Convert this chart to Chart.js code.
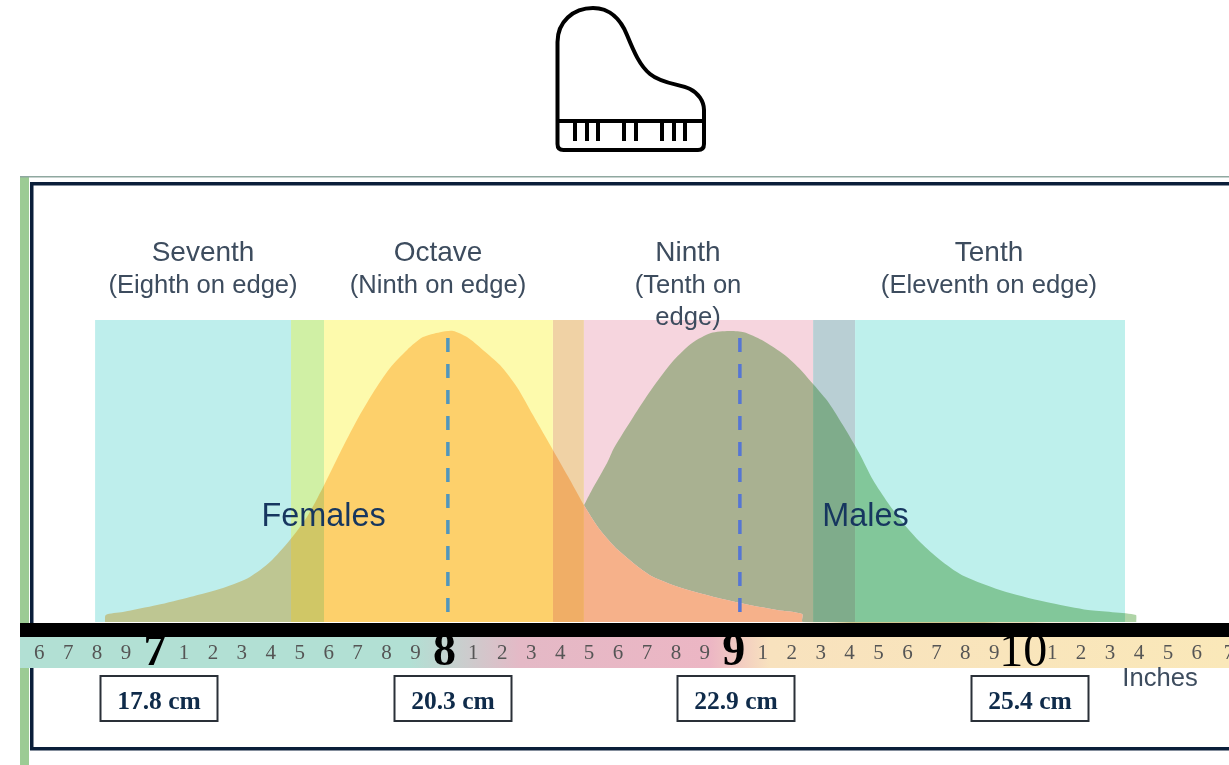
<!DOCTYPE html>
<html>
<head>
<meta charset="utf-8">
<title>Hand span</title>
<script src="https://cdn.jsdelivr.net/npm/chart.js@4"></script>
<style>
  body { margin: 0; background: #fff; }
  #wrap { position: relative; width: 1229px; height: 765px; overflow: hidden; }
  #piano { position: absolute; left: 0; top: 0; }
</style>
</head>
<body>
<div id="wrap">
  <canvas id="myChart" width="1229" height="765"></canvas>
  <svg id="piano" width="1229" height="170" fill="none" stroke="#000" stroke-width="4" stroke-linejoin="round">
    <path d="M557.5 121V42C557.5 22 573 8 593 8C610 8 621 20 627 35C634 52 640 66 650 74C662 84 680 84 690 89C698 93 704 101 704 110V144Q704 150 698 150H563.5Q557.5 150 557.5 144Z"/>
    <path d="M557.5 121H704"/>
    <path d="M575 121V141M587 121V141M598 121V141M624 121V141M636 121V141M662 121V141M674 121V141M685 121V141"/>
  </svg>
</div>
<script>
// span in inches, height as percent of the peak
const femaleInches = [6.827, 6.83, 6.889, 7.007, 7.121, 7.235, 7.328, 7.397, 7.466, 7.525, 7.581, 7.639, 7.698, 7.753, 7.812, 7.871, 7.926, 7.985, 8.03, 8.078, 8.133, 8.192, 8.251, 8.306, 8.375, 8.434, 8.486, 8.538, 8.6, 8.71, 8.842, 9.021, 9.149, 9.236, 9.238, 10.392];
const femaleHeight = [0, 2.4, 3.4, 5.8, 8.6, 11.7, 15.5, 20.6, 28.2, 36.1, 46.4, 58.1, 69.4, 78.7, 87.3, 93.5, 97.9, 99.6, 100, 97.9, 93.5, 88.3, 80.7, 71.1, 59.1, 48.8, 39.5, 31.6, 24.7, 16.1, 11, 6.5, 4.1, 2.7, 0, 0];

const maleInches = [8.482, 8.51, 8.562, 8.586, 8.652, 8.714, 8.793, 8.856, 8.921, 8.983, 9.035, 9.097, 9.177, 9.225, 9.277, 9.329, 9.381, 9.433, 9.481, 9.533, 9.585, 9.647, 9.713, 9.789, 9.941, 10.096, 10.224, 10.39, 10.392];
const maleHeight = [40, 45.4, 54.6, 59.8, 70.4, 79.7, 90, 95.9, 99.3, 100, 99.6, 96.9, 91.7, 87.3, 81.4, 75.2, 67, 58.1, 48.8, 40.9, 34, 27.1, 21.3, 16.1, 10.3, 6.5, 4.1, 2.4, 0];

const meanInches = [8.012, 9.021];
const meanRange = [3.4, 98];

const bandNames = ['Seventh', 'Octave', 'Ninth', 'Tenth'];
const bandNotes = [['(Eighth on edge)'], ['(Ninth on edge)'], ['(Tenth on', 'edge)'], ['(Eleventh on edge)']];
const bandEdges = [6.793, 7.47, 7.584, 8.375, 8.482, 9.274, 9.419, 10.352];
const bandTop = 103.8;

const cmLabels = ['17.8 cm', '20.3 cm', '22.9 cm', '25.4 cm'];

const toPoints = (xs, ys) => xs.map((x, i) => ({ x: x, y: ys[i] }));

const bandColors = ['rgb(190,238,236)', 'rgb(208,240,165)', 'rgb(253,250,172)', 'rgb(240,210,165)', 'rgb(246,213,222)', 'rgb(185,207,212)', 'rgb(190,240,236)'];
const FONT_SANS = '"Liberation Sans", Arial, sans-serif';
const FONT_SERIF = '"Liberation Serif", serif';

const data = {
  datasets: [
    // 0, 1: mean lines
    {
      data: toPoints([meanInches[0], meanInches[0]], meanRange),
      borderColor: 'rgb(80,150,190)',
      borderWidth: 3.5,
      borderDash: [14, 12],
      pointRadius: 0
    },
    {
      data: toPoints([meanInches[1], meanInches[1]], meanRange),
      borderColor: 'rgb(85,118,212)',
      borderWidth: 3.5,
      borderDash: [14, 12],
      pointRadius: 0
    },
    // 2: females
    {
      data: toPoints(femaleInches, femaleHeight),
      borderWidth: 0,
      borderColor: 'transparent',
      pointRadius: 0,
      tension: 0.25,
      fill: { value: 0 },
      backgroundColor: 'rgb(255,212,158)'
    },
    // 3: males, only where they stand above the female curve
    {
      data: toPoints(maleInches, maleHeight),
      borderWidth: 0,
      borderColor: 'transparent',
      pointRadius: 0,
      tension: 0.25,
      fill: { target: 2, above: 'rgb(175,212,167)', below: 'transparent' }
    }
  ]
};

bandColors.forEach((color, i) => {
  data.datasets.push({
    data: toPoints([bandEdges[i], bandEdges[i + 1]], [bandTop, bandTop]),
    borderWidth: 0,
    borderColor: 'transparent',
    pointRadius: 0,
    fill: { value: 0 },
    backgroundColor: color
  });
});

const pictureParts = {
  id: 'pictureParts',
  beforeDatasetsDraw(chart) {
    const ctx = chart.ctx;
    ctx.save();
    ctx.fillStyle = '#fff';
    ctx.fillRect(0, 0, 1229, 765);
    // side strip and frame
    ctx.fillStyle = '#9ccb94';
    ctx.fillRect(20, 177, 9, 588);
    ctx.fillStyle = '#8fa8a0';
    ctx.fillRect(20, 176, 1209, 1.5);
    ctx.fillStyle = '#0b1f3a';
    ctx.fillRect(30, 182, 1199, 3.5);
    ctx.fillRect(30, 182, 3.5, 568);
    ctx.fillRect(30, 747, 1199, 3.5);
    // ruler
    const grad = ctx.createLinearGradient(20, 0, 1229, 0);
    const stop = px => (px - 20) / 1209;
    grad.addColorStop(0, 'rgb(178,224,212)');
    grad.addColorStop(stop(410), 'rgb(178,224,212)');
    grad.addColorStop(stop(520), 'rgb(228,185,198)');
    grad.addColorStop(stop(710), 'rgb(236,182,196)');
    grad.addColorStop(stop(770), 'rgb(248,226,190)');
    grad.addColorStop(1, 'rgb(250,232,185)');
    ctx.fillStyle = grad;
    ctx.fillRect(20, 636, 1209, 32);
    ctx.fillStyle = '#000';
    ctx.fillRect(20, 623, 1209, 14);
    ctx.restore();
    ctx.globalCompositeOperation = 'multiply';
  },
  beforeDatasetDraw(chart, args) {
    chart.ctx.globalCompositeOperation = args.index < 2 ? 'source-over' : 'multiply';
  },
  afterDatasetsDraw(chart) {
    const ctx = chart.ctx;
    ctx.globalCompositeOperation = 'source-over';
    ctx.save();
    ctx.textAlign = 'center';
    ctx.textBaseline = 'middle';

    const bandCenters = [203, 438, 688, 989];
    ctx.fillStyle = '#3d4c5e';
    bandNames.forEach((name, i) => {
      ctx.font = '28px ' + FONT_SANS;
      ctx.fillText(name, bandCenters[i], 253.5);
      ctx.font = '25.6px ' + FONT_SANS;
      bandNotes[i].forEach((line, j) => ctx.fillText(line, bandCenters[i], 285.5 + j * 32));
    });

    ctx.fillStyle = '#16365f';
    ctx.font = '32.4px ' + FONT_SANS;
    ctx.fillText('Females', 323.5, 517);
    ctx.fillText('Males', 865.5, 517);

    ctx.fillStyle = '#3d4c5e';
    ctx.font = '25.6px ' + FONT_SANS;
    ctx.fillText('Inches', 1160, 679);

    const boxCenters = [159, 453, 736, 1030];
    cmLabels.forEach((label, i) => {
      ctx.strokeStyle = '#2a3038';
      ctx.lineWidth = 2;
      ctx.strokeRect(boxCenters[i] - 58.5, 676, 117, 45);
      ctx.fillStyle = '#0f2b4a';
      ctx.font = 'bold 25.5px ' + FONT_SERIF;
      ctx.fillText(label, boxCenters[i], 702);
    });
    ctx.restore();
  }
};

const wholeInchFont = { 7: 46, 8: 46, 9: 46, 10: 48 };

const config = {
  type: 'line',
  data,
  plugins: [pictureParts],
  options: {
    responsive: false,
    animation: false,
    parsing: { xAxisKey: 'x', yAxisKey: 'y' },
    layout: { padding: 0, autoPadding: false },
    elements: { line: { tension: 0 } },
    plugins: { legend: { display: false }, tooltip: { enabled: false } },
    scales: {
      x: {
        type: 'linear',
        min: 6.4644,
        max: 10.7111,
        position: { y: -10.7 },
        grid: { display: false, drawTicks: false },
        border: { display: false },
        afterBuildTicks(axis) {
          axis.ticks = axis.ticks.filter(t => t.value > 6.55);
        },
        afterFit(axis) {
          axis.paddingLeft = 0;
          axis.paddingRight = 0;
        },
        ticks: {
          stepSize: 0.1,
          z: 1,
          padding: 0,
          autoSkip: false,
          maxRotation: 0,
          minRotation: 0,
          crossAlign: 'center',
          callback(value) {
            const tenths = Math.round(value * 10);
            return tenths % 10 === 0 ? String(tenths / 10) : String(tenths % 10);
          },
          color(c) {
            if (!c.tick) return '#555';
            return Math.round(c.tick.value * 10) % 10 === 0 ? '#000' : '#555';
          },
          font(c) {
            const small = { family: FONT_SERIF, size: 21, lineHeight: '26px' };
            if (!c.tick) return small;
            const tenths = Math.round(c.tick.value * 10);
            if (tenths % 10 !== 0) return small;
            const inch = tenths / 10;
            return { family: FONT_SERIF, size: wholeInchFont[inch], lineHeight: '26px', weight: inch === 10 ? 'normal' : 'bold' };
          }
        }
      },
      y: {
        type: 'linear',
        display: false,
        min: -49.15,
        max: 213.75
      }
    }
  }
};

const myChart = new Chart(
  document.getElementById('myChart'),
  config
);
</script>
</body>
</html>
